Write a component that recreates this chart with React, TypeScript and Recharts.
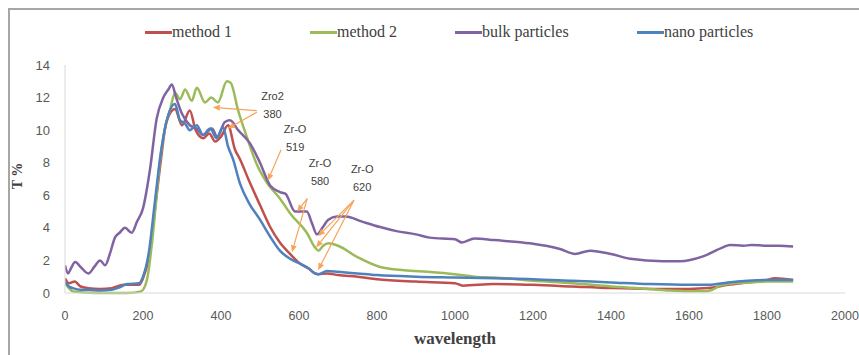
import React from 'react'
import { LineChart, Line, XAxis, YAxis, ReferenceLine, ReferenceDot } from 'recharts'

// Excel 2007 default palette
const METHOD1_COLOR = '#C0504D'
const METHOD2_COLOR = '#9BBB59'
const BULK_COLOR    = '#8064A2'
const NANO_COLOR    = '#4F81BD'
const ARROW_COLOR   = '#F7A35C'
const AXIS_COLOR    = '#D9D9D9'
const TICK_COLOR    = '#595959'
const TEXT_COLOR    = '#404040'

const X_TICKS = [0, 200, 400, 600, 800, 1000, 1200, 1400, 1600, 1800, 2000]
const Y_TICKS = [0, 2, 4, 6, 8, 10, 12, 14]

// method 1
const M1_W = [0, 10, 25, 40, 60, 90, 120, 150, 190, 200, 215, 230, 245, 260, 282, 300, 320, 335, 355, 370, 385, 400, 418, 436, 449, 470, 500, 525, 551, 577, 603, 625, 641, 650, 672, 700, 750, 800, 900, 1000, 1020, 1100, 1200, 1300, 1400, 1500, 1600, 1650, 1700, 1750, 1800, 1820, 1867]
const M1_T = [0.9, 0.6, 0.7, 0.4, 0.3, 0.25, 0.3, 0.5, 0.5, 0.9, 2.2, 5.0, 8.0, 10.5, 11.3, 10.3, 11.2, 10.0, 9.5, 9.8, 9.3, 9.6, 10.3, 8.8, 8.2, 7.0, 5.4, 4.1, 3.1, 2.4, 1.8, 1.5, 1.2, 1.15, 1.2, 1.1, 1.0, 0.85, 0.7, 0.6, 0.45, 0.55, 0.5, 0.4, 0.3, 0.25, 0.25, 0.3, 0.5, 0.65, 0.8, 0.9, 0.8]

// method 2
const M2_W = [0, 10, 20, 40, 80, 120, 160, 195, 210, 225, 244, 257, 269, 282, 295, 308, 325, 338, 359, 375, 392, 415, 425, 444, 466, 490, 517, 551, 580, 620, 641, 650, 662, 675, 700, 750, 808, 870, 930, 1000, 1050, 1100, 1200, 1300, 1400, 1500, 1550, 1600, 1640, 1660, 1680, 1700, 1750, 1800, 1867]
const M2_T = [0.6, 0.3, 0.1, 0.05, 0, 0, 0, 0.1, 0.8, 3.5, 8.2, 10.2, 11.2, 12.3, 11.9, 12.5, 11.8, 12.6, 11.7, 12.0, 11.7, 13.0, 12.9, 11.2, 9.6, 8.0, 6.8, 5.8, 4.8, 3.7, 2.8, 2.6, 2.9, 3.05, 2.9, 2.2, 1.6, 1.4, 1.3, 1.15, 1.0, 0.95, 0.75, 0.6, 0.4, 0.25, 0.15, 0.1, 0.1, 0.2, 0.45, 0.55, 0.65, 0.7, 0.7]

// bulk particles
const BULK_W = [0, 8, 15, 26, 40, 60, 75, 90, 103, 115, 128, 140, 154, 171, 185, 200, 218, 235, 252, 265, 274, 285, 300, 320, 338, 354, 377, 390, 410, 423, 444, 474, 500, 526, 551, 565, 590, 620, 633, 646, 660, 675, 697, 720, 760, 808, 850, 900, 935, 1000, 1018, 1050, 1100, 1192, 1269, 1308, 1346, 1400, 1449, 1533, 1577, 1636, 1687, 1705, 1740, 1760, 1800, 1830, 1867]
const BULK_T = [1.7, 1.2, 1.5, 1.9, 1.6, 1.2, 1.6, 2.0, 1.7, 2.4, 3.4, 3.7, 4.0, 3.7, 4.4, 5.2, 7.6, 10.7, 12.0, 12.5, 12.8, 12.0, 11.0, 10.3, 10.1, 9.7, 10.1, 9.6, 10.5, 10.6, 10.0, 9.2, 8.0, 6.6, 6.2, 6.1, 5.0, 5.0, 4.3, 3.6, 4.0, 4.5, 4.7, 4.7, 4.4, 4.05, 3.8, 3.6, 3.4, 3.3, 3.1, 3.35, 3.25, 3.05, 2.7, 2.4, 2.6, 2.4, 2.1, 1.95, 1.95, 2.25, 2.8, 2.95, 2.9, 2.95, 2.9, 2.9, 2.85]

// nano particles
const NANO_W = [0, 10, 20, 40, 60, 90, 120, 140, 160, 190, 200, 215, 230, 245, 260, 282, 295, 308, 320, 338, 354, 372, 389, 405, 418, 431, 449, 470, 500, 525, 551, 577, 603, 625, 641, 650, 672, 700, 750, 800, 900, 1000, 1100, 1200, 1300, 1400, 1500, 1600, 1650, 1700, 1750, 1800, 1867]
const NANO_T = [0.7, 0.4, 0.3, 0.2, 0.2, 0.15, 0.2, 0.35, 0.55, 0.6, 1.0, 2.5, 5.5, 8.5, 10.5, 11.6, 10.6, 10.4, 10.0, 10.3, 9.7, 10.1, 9.5, 10.2, 9.0, 8.2, 6.7, 5.6, 4.5, 3.5, 2.6, 2.1, 1.8, 1.5, 1.2, 1.15, 1.35, 1.3, 1.2, 1.1, 1.0, 0.95, 0.9, 0.85, 0.75, 0.65, 0.55, 0.5, 0.5, 0.65, 0.75, 0.8, 0.8]

// peak annotations (data coordinates)
const NOTE_LABELS = [
  { lines: ['Zro2', '380'], w: 532, t: 11.6 },
  { lines: ['Zr-O', '519'], w: 590, t: 9.6 },
  { lines: ['Zr-O', '580'], w: 654, t: 7.5 },
  { lines: ['Zr-O', '620'], w: 762, t: 7.1 },
]
const NOTE_ARROWS = [
  [{ x: 492, y: 11.2 }, { x: 379, y: 11.4 }],
  [{ x: 492, y: 11.1 }, { x: 418, y: 10.1 }],
  [{ x: 554, y: 8.8 }, { x: 520, y: 6.9 }],
  [{ x: 621, y: 5.8 }, { x: 582, y: 2.5 }],
  [{ x: 621, y: 5.8 }, { x: 595, y: 5.0 }],
  [{ x: 741, y: 5.7 }, { x: 649, y: 3.5 }],
  [{ x: 741, y: 5.7 }, { x: 644, y: 2.8 }],
  [{ x: 741, y: 5.7 }, { x: 649, y: 1.4 }],
]

const toPoints = (w: number[], t: number[]) => w.map((x, i) => ({ w: x, t: t[i] }))

const SERIES = [
  { name: 'method 1', color: METHOD1_COLOR, data: toPoints(M1_W, M1_T) },
  { name: 'method 2', color: METHOD2_COLOR, data: toPoints(M2_W, M2_T) },
  { name: 'bulk particles', color: BULK_COLOR, data: toPoints(BULK_W, BULK_T) },
  { name: 'nano particles', color: NANO_COLOR, data: toPoints(NANO_W, NANO_T) },
]

// legend item widths so the entries sit where the original put them
const LEGEND_WIDTHS = [165, 145, 182, 130]

function Arrow(props: any) {
  const { x1, y1, x2, y2 } = props
  const a = Math.atan2(y2 - y1, x2 - x1)
  const len = 7, half = 3
  const bx = x2 - len * Math.cos(a)
  const by = y2 - len * Math.sin(a)
  const pts = [
    `${x2},${y2}`,
    `${bx + half * Math.sin(a)},${by - half * Math.cos(a)}`,
    `${bx - half * Math.sin(a)},${by + half * Math.cos(a)}`,
  ].join(' ')
  return (
    <g>
      <line x1={x1} y1={y1} x2={bx} y2={by} stroke={ARROW_COLOR} strokeWidth={1.2} />
      <polygon points={pts} fill={ARROW_COLOR} />
    </g>
  )
}

function NoteText({ cx, cy, lines }: any) {
  return (
    <text
      x={cx}
      y={cy}
      textAnchor="middle"
      fontSize={11}
      fill={TEXT_COLOR}
      style={{ fontFamily: "'Liberation Sans', sans-serif" }}
    >
      <tspan x={cx} dy={-4}>{lines[0]}</tspan>
      <tspan x={cx} dy={18}>{lines[1]}</tspan>
    </text>
  )
}

export default function App() {
  return (
    <div
      style={{
        position: 'absolute',
        left: 8,
        top: 8,
        width: 851,
        height: 347,
        boxSizing: 'border-box',
        borderTop: '2px solid #A6A6A6',
        borderLeft: '2px solid #A6A6A6',
        background: '#fff',
      }}
    >
      {/* no body margin / scrollbars so the 2000 tick at the edge is not clipped */}
      <style>{'html, body { margin: 0; overflow: hidden; } .recharts-surface { overflow: visible; }'}</style>

      {/* Legend */}
      <div
        style={{
          position: 'absolute',
          top: 13,
          left: 135,
          display: 'flex',
          alignItems: 'center',
          fontFamily: "'Liberation Serif', serif",
          fontSize: 16,
          color: TEXT_COLOR,
        }}
      >
        {SERIES.map((s, i) => (
          <div key={s.name} style={{ width: LEGEND_WIDTHS[i], display: 'flex', alignItems: 'center' }}>
            <div style={{ width: 27, height: 3, background: s.color }} />
            <span>{s.name}</span>
          </div>
        ))}
      </div>

      {/* Y title */}
      <div
        style={{
          position: 'absolute',
          left: -12,
          top: 158,
          width: 40,
          textAlign: 'center',
          transform: 'rotate(-90deg)',
          fontFamily: "'Liberation Serif', serif",
          fontWeight: 'bold',
          fontSize: 14,
          color: TEXT_COLOR,
        }}
      >
        T %
      </div>

      {/* X title */}
      <div
        style={{
          position: 'absolute',
          left: 345,
          top: 319,
          width: 200,
          textAlign: 'center',
          fontFamily: "'Liberation Serif', serif",
          fontWeight: 'bold',
          fontSize: 17,
          color: TEXT_COLOR,
        }}
      >
        wavelength
      </div>

      <LineChart width={849} height={345} margin={{ top: 55, right: 14, left: 15, bottom: 32 }}>
        <XAxis
          type="number"
          dataKey="w"
          domain={[0, 2000]}
          ticks={X_TICKS}
          interval={0}
          allowDataOverflow
          stroke={AXIS_COLOR}
          tickLine={false}
          tickMargin={12}
          height={30}
          tick={{ fill: TICK_COLOR, fontSize: 12.5, fontFamily: "'Liberation Sans', sans-serif" }}
        />
        <YAxis
          type="number"
          domain={[0, 14]}
          ticks={Y_TICKS}
          interval={0}
          stroke={AXIS_COLOR}
          tickLine={false}
          tickMargin={9}
          width={40}
          tick={{ fill: TICK_COLOR, fontSize: 13, fontFamily: "'Liberation Sans', sans-serif" }}
        />
        {SERIES.map(s => (
          <Line
            key={s.name}
            data={s.data}
            dataKey="t"
            name={s.name}
            type="monotone"
            stroke={s.color}
            strokeWidth={2.5}
            dot={false}
            isAnimationActive={false}
          />
        ))}
        {NOTE_ARROWS.map((seg, i) => (
          <ReferenceLine key={'a' + i} segment={seg} shape={<Arrow />} ifOverflow="visible" />
        ))}
        {NOTE_LABELS.map((n, i) => (
          <ReferenceDot
            key={'n' + i}
            x={n.w}
            y={n.t}
            r={0}
            ifOverflow="visible"
            shape={(p: any) => <NoteText cx={p.cx} cy={p.cy} lines={n.lines} />}
          />
        ))}
      </LineChart>
    </div>
  )
}
